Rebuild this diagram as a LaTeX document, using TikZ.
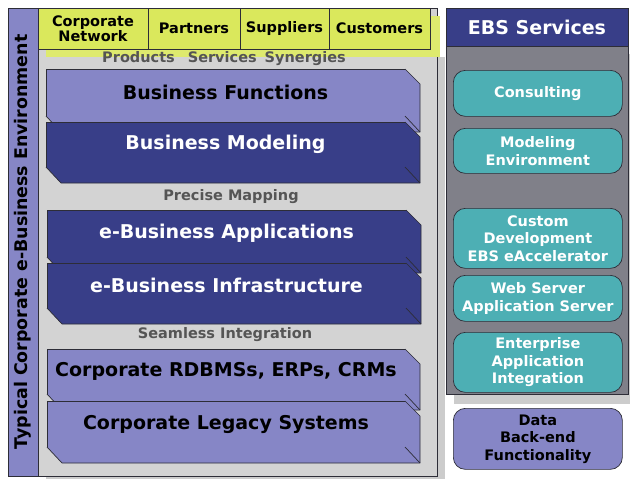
\documentclass[tikz,border=0pt]{standalone}
\usepackage{fontspec}
\setmainfont{DejaVu Sans}
\definecolor{lpurple}{RGB}{134,134,198}
\definecolor{navy}{RGB}{56,62,136}
\definecolor{ylw}{RGB}{218,232,92}
\definecolor{ylwshadow}{RGB}{222,234,110}
\definecolor{panelgray}{RGB}{211,211,211}
\definecolor{panelshadow}{RGB}{204,204,204}
\definecolor{rgray}{RGB}{128,128,137}
\definecolor{teal2}{RGB}{77,175,180}
\definecolor{edgec}{RGB}{45,45,55}
\definecolor{labgray}{RGB}{85,85,85}
\newcommand\slabext[2]{%
  \fill[#2] (#1.north east) -- ++(15,15) -- ([shift={(15,16)}]#1.south east)
    -- ([shift={(15,16)}]#1.south west) -- (#1.south west) -- (#1.south east) -- cycle;
  \draw[edgec, line width=0.7pt, line join=round] (#1.north east) -- ++(15,15) -- ([shift={(15,16)}]#1.south east)
    -- ([shift={(15,16)}]#1.south west) -- (#1.south west);
  \draw[edgec, line width=0.7pt] (#1.south east) -- ([shift={(15,16)}]#1.south east);
}
\begin{document}
\begin{tikzpicture}[x=1pt,y=-1pt,
  bigfont/.style={font=\bfseries\fontsize{19}{22}\selectfont},
  midfont/.style={font=\bfseries\fontsize{14.5}{17.5}\selectfont},
  slabface/.style={draw=edgec, line width=0.7pt, inner sep=0pt, outer sep=0pt,
    anchor=north west, bigfont, minimum width=359pt},
  lslab/.style={slabface, fill=lpurple, text=black},
  dslab/.style={slabface, fill=navy, text=white},
  cell/.style={draw=edgec, line width=0.7pt, fill=ylw, inner sep=0pt, outer sep=0pt,
    anchor=north west, minimum height=41pt, midfont, align=center, text=black},
  glabel/.style={midfont, text=labgray, inner sep=0pt},
  svc/.style={draw=edgec, line width=0.7pt, fill=teal2, rounded corners=12pt, inner sep=0pt,
    anchor=north west, minimum width=169pt, midfont, align=center, text=white},
]
\useasboundingbox (0,0) rectangle (630,479);

% ---- left structure ----
\fill[panelshadow] (46,57) rectangle (445,486);
\draw[edgec, line width=0.8pt, fill=panelgray] (8,8) rectangle (437,476);
\draw[edgec, line width=0.8pt, fill=lpurple] (8,8) rectangle (38,476);
\node[rotate=90, font=\bfseries\fontsize{17.4}{20}\selectfont, text=black] (env) at (23,242)
  {Typical Corporate e-Business Environment};

\fill[ylwshadow] (46,16) rectangle (440,57);
\node[cell, minimum width=110pt] (corp) at (38,8) {Corporate\\[-3pt]Network};
\node[cell, minimum width=92pt] (partners) at (148,8) {Partners};
\node[cell, minimum width=89pt] (suppliers) at (240,8) {Suppliers};
\node[cell, minimum width=101pt] (customers) at (329,8) {Customers};

\node[glabel] (pss) at (224,59) {Products\hspace{13pt}Services\hspace{8pt}Synergies};

\node[lslab, minimum height=47pt] (bf) at (46,69) {Business Functions};
\slabext{bf}{lpurple}
\node[dslab, minimum height=45pt] (bm) at (46,122) {Business Modeling};
\slabext{bm}{navy}

\node[glabel] (pm) at (231,197) {Precise Mapping};

\node[dslab, minimum height=47pt] (ea) at (47,210) {e-Business Applications};
\slabext{ea}{navy}
\node[dslab, minimum height=45pt] (ei) at (47,263) {e-Business Infrastructure};
\slabext{ei}{navy}

\node[glabel] (si) at (225,335) {Seamless Integration};

\node[lslab, minimum width=358pt, minimum height=45pt] (rd) at (47,349) {Corporate RDBMSs, ERPs, CRMs};
\slabext{rd}{lpurple}
\node[lslab, minimum width=358pt, minimum height=46pt] (lg) at (47,401) {Corporate Legacy Systems};
\slabext{lg}{lpurple}

% ---- right structure ----
\fill[panelshadow] (454,54) rectangle (640,404);
\draw[edgec, line width=0.8pt, fill=rgray] (446,46) rectangle (628,394);
\node[draw=edgec, line width=0.8pt, fill=navy, anchor=north west, inner sep=0pt, outer sep=0pt,
  minimum width=182pt, minimum height=38pt, bigfont, text=white] (ebs) at (446,8) {EBS Services};

\node[svc, minimum height=46pt] (cons) at (453,70) {Consulting};
\node[svc, minimum height=45pt] (model) at (453,128) {Modeling\\Environment};
\node[svc, minimum height=60pt] (custom) at (453,208) {Custom\\Development\\EBS eAccelerator};
\node[svc, minimum height=46pt] (web) at (453,275) {Web Server\\Application Server};
\node[svc, minimum height=60pt] (eai) at (453,332) {Enterprise\\Application\\Integration};
\node[svc, minimum height=61pt, fill=lpurple, text=black] (data) at (453,408)
  {Data\\Back-end\\Functionality};
\end{tikzpicture}
\end{document}
